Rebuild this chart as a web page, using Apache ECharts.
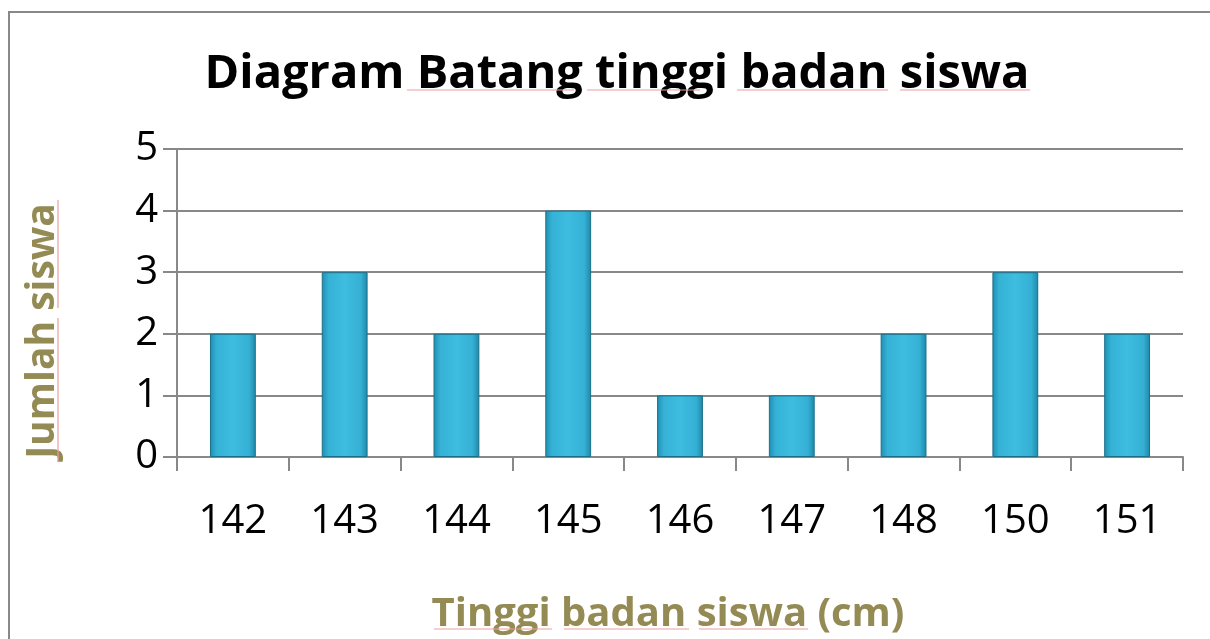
<!DOCTYPE html>
<html><head><meta charset="utf-8">
<script src="https://cdn.jsdelivr.net/npm/echarts@6/dist/echarts.min.js"></script>
<style>html,body{margin:0;padding:0;background:#fff}#c{width:1210px;height:639px}</style>
</head><body><div id="c"></div>
<script>
const categories = ['142','143','144','145','146','147','148','150','151'];
const values = [2,3,2,4,1,1,2,3,2];
const yTicks = [0,1,2,3,4,5];
const FONT = "'Open Sans', 'Noto Sans', sans-serif";
const squiggle = '#eb9f9f';
function hl(x1,x2,y){return {type:'line',shape:{x1:x1,y1:y,x2:x2,y2:y},style:{stroke:squiggle,lineWidth:1.2},silent:true,z:10};}
function vl(x,y1,y2){return {type:'line',shape:{x1:x,y1:y1,x2:x,y2:y2},style:{stroke:squiggle,lineWidth:1.2},silent:true,z:10};}
const chart = echarts.init(document.getElementById('c'));
chart.setOption({
  animation:false,
  backgroundColor:'#fff',
  graphic:[
    {type:'rect',shape:{x:9,y:12,width:1400,height:800},style:{fill:'none',stroke:'#888',lineWidth:2},silent:true},
    hl(407,574,90),hl(587,700,90),hl(737,888,90),hl(900,1030,90),
    hl(434,552,629),hl(564,689,629),hl(699,808,629),
    vl(58,200,308),vl(58,318,462)
  ],
  title:{text:'Diagram Batang tinggi badan siswa',left:612,top:46,textAlign:'center',
    textStyle:{fontFamily:FONT,fontWeight:'bold',fontSize:47,color:'#000'}},
  grid:{left:177,right:27,top:149,bottom:182},
  xAxis:{type:'category',data:categories,
    name:'Tinggi badan siswa (cm)',nameLocation:'middle',nameGap:138,
    nameTextStyle:{fontFamily:FONT,fontWeight:'bold',fontSize:40,color:'#948a54',padding:[0,24,0,0]},
    axisLine:{lineStyle:{color:'#888',width:2}},
    axisTick:{show:true,length:14,inside:false,alignWithLabel:false,lineStyle:{color:'#888',width:2}},
    axisLabel:{fontFamily:FONT,fontSize:40,color:'#000',margin:45}},
  yAxis:{type:'value',min:0,max:5,interval:1,
    name:'Jumlah siswa',nameLocation:'middle',nameGap:115,nameRotate:90,
    nameTextStyle:{fontFamily:FONT,fontWeight:'bold',fontSize:39,color:'#948a54',padding:[0,56,0,0]},
    axisLine:{show:true,lineStyle:{color:'#888',width:2}},
    axisTick:{show:true,length:14,lineStyle:{color:'#888',width:2}},
    splitLine:{lineStyle:{color:'#888',width:2}},
    axisLabel:{fontFamily:FONT,fontSize:40,color:'#000',margin:19,
      formatter:v=>yTicks.includes(v)?String(v):''}},
  series:[{type:'bar',data:values,barWidth:'41%',
    itemStyle:{borderColor:'#1b6f88',borderWidth:1,
      color:new echarts.graphic.LinearGradient(0,0,1,0,[
        {offset:0,color:'#1f8fb0'},{offset:0.15,color:'#35b2d6'},{offset:0.5,color:'#3dbde0'},
        {offset:0.85,color:'#35b0d4'},{offset:1,color:'#1d88a8'}])}}]
});
</script></body></html>
